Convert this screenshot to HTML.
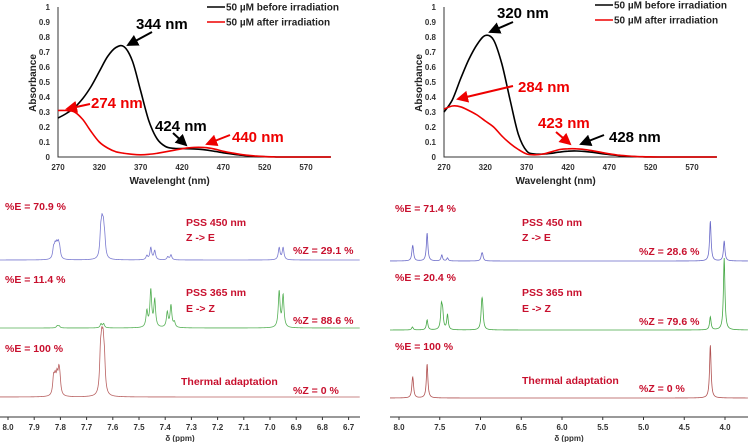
<!DOCTYPE html>
<html><head><meta charset="utf-8"><style>
html,body{margin:0;padding:0;background:#fff;}
svg{display:block;font-family:"Liberation Sans",sans-serif;}
.tk{font-size:8px;font-weight:bold;fill:#333;}
.lab{font-size:15px;font-weight:bold;}
.nm{font-size:10.5px;font-weight:bold;fill:#c8102e;}
.lg{font-size:10px;font-weight:bold;fill:#222;}
</style></head><body>
<svg id="fig" width="748" height="442" viewBox="0 0 748 442">
<defs>
<marker id="ak" markerWidth="6" markerHeight="6" refX="5" refY="3" orient="auto" markerUnits="strokeWidth"><path d="M0,0 L6,3 L0,6 z" fill="#000"/></marker>
<marker id="ar" markerWidth="6" markerHeight="6" refX="5" refY="3" orient="auto" markerUnits="strokeWidth"><path d="M0,0 L6,3 L0,6 z" fill="#e00"/></marker>
</defs>
<g id="uvL"></g>
<g id="uvR"></g>
<g id="nmrL"></g>
<g id="nmrR"></g>
<g>
<text class="lab" x="136" y="29">344 nm</text>
<line x1="152" y1="32" x2="128" y2="45" stroke="#000" stroke-width="2" marker-end="url(#ak)"/>
<text class="lab" x="91" y="108" fill="#e00">274 nm</text>
<line x1="90" y1="104" x2="67" y2="109" stroke="#e00" stroke-width="2" marker-end="url(#ar)"/>
<text class="lab" x="155" y="131">424 nm</text>
<line x1="173" y1="133" x2="186" y2="145" stroke="#000" stroke-width="2" marker-end="url(#ak)"/>
<text class="lab" x="232" y="142" fill="#e00">440 nm</text>
<line x1="230" y1="135" x2="207" y2="144" stroke="#e00" stroke-width="2" marker-end="url(#ar)"/>
<text class="lab" x="497" y="18">320 nm</text>
<line x1="513" y1="22" x2="490" y2="32" stroke="#000" stroke-width="2" marker-end="url(#ak)"/>
<text class="lab" x="518" y="92" fill="#e00">284 nm</text>
<line x1="513" y1="86" x2="458" y2="99" stroke="#e00" stroke-width="2" marker-end="url(#ar)"/>
<text class="lab" x="538" y="128" fill="#e00">423 nm</text>
<line x1="556" y1="132" x2="570" y2="144" stroke="#e00" stroke-width="2" marker-end="url(#ar)"/>
<text class="lab" x="609" y="142">428 nm</text>
<line x1="604" y1="135" x2="581" y2="144" stroke="#000" stroke-width="2" marker-end="url(#ak)"/>
</g>
<g>
<text class="nm" x="5" y="210">%E = 70.9 %</text>
<text class="nm" x="186" y="226">PSS 450 nm</text>
<text class="nm" x="186" y="241">Z  -&gt; E</text>
<text class="nm" x="293" y="254">%Z = 29.1 %</text>
<text class="nm" x="5" y="283">%E = 11.4 %</text>
<text class="nm" x="186" y="296">PSS 365 nm</text>
<text class="nm" x="186" y="312">E -&gt; Z</text>
<text class="nm" x="293" y="324">%Z = 88.6 %</text>
<text class="nm" x="5" y="352">%E = 100 %</text>
<text class="nm" x="181" y="385">Thermal  adaptation</text>
<text class="nm" x="293" y="394">%Z = 0 %</text>
<text class="nm" x="395" y="212">%E = 71.4 %</text>
<text class="nm" x="522" y="226">PSS 450 nm</text>
<text class="nm" x="522" y="241">Z -&gt; E</text>
<text class="nm" x="639" y="255">%Z = 28.6 %</text>
<text class="nm" x="395" y="281">%E = 20.4 %</text>
<text class="nm" x="522" y="296">PSS 365 nm</text>
<text class="nm" x="522" y="312">E -&gt; Z</text>
<text class="nm" x="639" y="325">%Z = 79.6 %</text>
<text class="nm" x="395" y="350">%E = 100 %</text>
<text class="nm" x="522" y="384">Thermal  adaptation</text>
<text class="nm" x="639" y="392">%Z = 0 %</text>
</g>
</svg>
<script>
const NS="http://www.w3.org/2000/svg";
const wl=[270,280,290,300,310,320,330,340,350,360,370,380,390,400,410,420,430,440,450,460,470,480,490,500,510,520,530,540,600];
const leftBefore=[0.26,0.29,0.33,0.39,0.47,0.57,0.67,0.73,0.735,0.64,0.44,0.24,0.12,0.07,0.058,0.056,0.055,0.052,0.046,0.037,0.028,0.02,0.013,0.008,0.004,0.002,0.001,0,0];
const leftAfter=[0.31,0.31,0.30,0.25,0.17,0.10,0.06,0.035,0.025,0.018,0.015,0.018,0.025,0.035,0.045,0.055,0.062,0.065,0.062,0.052,0.038,0.027,0.018,0.011,0.006,0.003,0.001,0,0];
const rightBefore=[0.30,0.38,0.52,0.65,0.75,0.81,0.78,0.62,0.38,0.15,0.04,0.02,0.02,0.025,0.033,0.039,0.04,0.037,0.031,0.023,0.016,0.01,0.005,0.003,0.001,0,0,0,0];
const rightAfter=[0.32,0.34,0.335,0.31,0.28,0.24,0.20,0.14,0.09,0.05,0.02,0.015,0.02,0.035,0.05,0.055,0.055,0.05,0.041,0.031,0.021,0.013,0.008,0.004,0.002,0.001,0,0,0];
const xTicks=[270,320,370,420,470,520,570];
const yTicks=[0,0.1,0.2,0.3,0.4,0.5,0.6,0.7,0.8,0.9,1];
const yTickLabels=["0","0.1","0.2","0.3","0.4","0.5","0.6","0.7","0.8","0.9","1"];

function mk(tag,attrs,parent){const e=document.createElementNS(NS,tag);for(const k in attrs)e.setAttribute(k,attrs[k]);parent.appendChild(e);return e;}

function smooth(pts){
  let d="M"+pts[0][0].toFixed(1)+","+pts[0][1].toFixed(1);
  for(let i=0;i<pts.length-1;i++){
    const p0=pts[Math.max(0,i-1)],p1=pts[i],p2=pts[i+1],p3=pts[Math.min(pts.length-1,i+2)];
    const c1=[p1[0]+(p2[0]-p0[0])/6,p1[1]+(p2[1]-p0[1])/6];
    const c2=[p2[0]-(p3[0]-p1[0])/6,p2[1]-(p3[1]-p1[1])/6];
    d+=` C${c1[0].toFixed(1)},${c1[1].toFixed(1)} ${c2[0].toFixed(1)},${c2[1].toFixed(1)} ${p2[0].toFixed(1)},${p2[1].toFixed(1)}`;
  }
  return d;
}

function uv(g,x0,before,after,legX,legDy){
  const X=v=>x0+(v-270)*0.8267, Y=v=>157-v*150;
  const ax=mk("path",{d:`M${x0},${Y(1)} V157 H${X(600)}`,stroke:"#333","stroke-width":1,fill:"none"},g);
  
  
  yTicks.forEach((t,i)=>{const tx=mk("text",{class:"tk",x:x0-8,y:Y(t)+3,"text-anchor":"end"},g);tx.textContent=yTickLabels[i];
    
    });
  xTicks.forEach(t=>{const tx=mk("text",{class:"tk",x:X(t),y:170,"text-anchor":"middle"},g);tx.textContent=t;
    
    });
  const xt=mk("text",{x:X(405),y:184,"text-anchor":"middle","font-size":"10","font-weight":"bold",fill:"#222"},g);xt.textContent="Wavelenght (nm)";
  
  
  const yt=mk("text",{x:0,y:0,transform:`translate(${x0-22},83) rotate(-90)`,"text-anchor":"middle","font-size":"10","font-weight":"bold",fill:"#222"},g);yt.textContent="Absorbance";
  
  
  [[before,"#000","series-before"],[after,"#e00","series-after"]].forEach(([arr,c,n])=>{
    const d=smooth(arr.map((v,i)=>[X(wl[i]),Y(v)]));
    const p=mk("path",{d,stroke:c,"stroke-width":1.6,fill:"none","stroke-linejoin":"round"},g);
    
    
  });
  const items=[["#000","50 µM before irradiation",7+legDy],["#e00","50 µM after irradiation",22+legDy]];
  items.forEach(([c,t,y])=>{
    const l=mk("line",{x1:legX,x2:legX+18,y1:y,y2:y,stroke:c,"stroke-width":1.6},g);
    
    
    const tx=mk("text",{class:"lg",x:legX+19,y:y+3.5},g);tx.textContent=t;
    
    
  });
}
uv(document.getElementById("uvL"),58,leftBefore,leftAfter,207,0);
uv(document.getElementById("uvR"),444,rightBefore,rightAfter,595,-2);

// NMR peak data: [ppm, intensity]
const lBlue=[[7.826,10],[7.82,11],[7.814,11],[7.808,12],[7.803,9],[7.646,23],[7.641,26],[7.636,24],[7.631,15],[7.47,4],[7.455,12],[7.44,9],[7.39,3],[7.378,5],[6.965,12],[6.95,12]];
const lGreen=[[7.812,2],[7.805,2],[7.645,4],[7.635,4],[7.47,16],[7.455,37],[7.44,27],[7.392,15],[7.378,22],[7.365,5],[6.965,36],[6.95,32]];
const lRed=[[7.826,17],[7.82,15],[7.813,17],[7.806,20],[7.802,13],[7.647,35],[7.642,38],[7.637,38],[7.632,28]];
const rBlue=[[7.835,9],[7.828,8],[7.655,28],[7.475,6],[7.405,3],[6.985,5],[6.975,5],[4.18,40],[4.01,20]];
const rGreen=[[7.835,3],[7.655,10],[7.48,22],[7.465,16],[7.405,15],[6.985,20],[6.975,19],[4.18,13],[4.01,72]];
const rRed=[[7.835,12],[7.828,11],[7.655,34],[4.18,53]];
const lTicks=[8.0,7.9,7.8,7.7,7.6,7.5,7.4,7.3,7.2,7.1,7.0,6.9,6.8,6.7];
const rTicks=[8.0,7.5,7.0,6.5,6.0,5.5,5.0,4.5,4.0];

function nmr(g,X,xa,xb,ppmA,ppmB,tickArr,gam,sets){
  const ax=mk("line",{x1:xa,x2:xb,y1:417,y2:417,stroke:"#333","stroke-width":1},g);
  
  
  tickArr.forEach(t=>{
    const tl=mk("line",{x1:X(t),x2:X(t),y1:417,y2:420,stroke:"#333"},g);
    
    
    const tx=mk("text",{class:"tk",x:X(t),y:430,"text-anchor":"middle","font-size":"9"},g);tx.textContent=t.toFixed(1);
    
    
  });
  const xt=mk("text",{x:(xa+xb)/2,y:441,"text-anchor":"middle","font-size":"8","font-weight":"bold",fill:"#333"},g);xt.textContent="δ (ppm)";
  
  
  sets.forEach(([peaks,base,col,name])=>{
    let d="";
    for(let px=xa;px<=xb;px+=0.3){
      const ppm=ppmA+(px-xa)/(xb-xa)*(ppmB-ppmA);
      let s=0;peaks.forEach(([c,h])=>{const u=(ppm-c)/gam;s+=h/(1+u*u);});
      d+=(d?"L":"M")+px.toFixed(2)+","+(base-s).toFixed(2);
    }
    const p=mk("path",{d,stroke:col,"stroke-width":0.8,fill:"none"},g);
    
    
  });
}
const XL=p=>8+(8.0-p)*262;
nmr(document.getElementById("nmrL"),XL,0,360,8.0+8/262,8.0-352/262,lTicks,0.004,
 [[lBlue,260,"#7a7ad0","spectrum-pss450"],[lGreen,328,"#55b055","spectrum-pss365"],[lRed,397,"#b86060","spectrum-thermal"]]);
const XR=p=>399+(8.0-p)*81.5;
nmr(document.getElementById("nmrR"),XR,390,748,8.0+9/81.5,8.0-349/81.5,rTicks,0.011,
 [[rBlue,261,"#6a6ac8","spectrum-pss450"],[rGreen,330,"#45a845","spectrum-pss365"],[rRed,398,"#b05050","spectrum-thermal"]]);
</script>
</body></html>
